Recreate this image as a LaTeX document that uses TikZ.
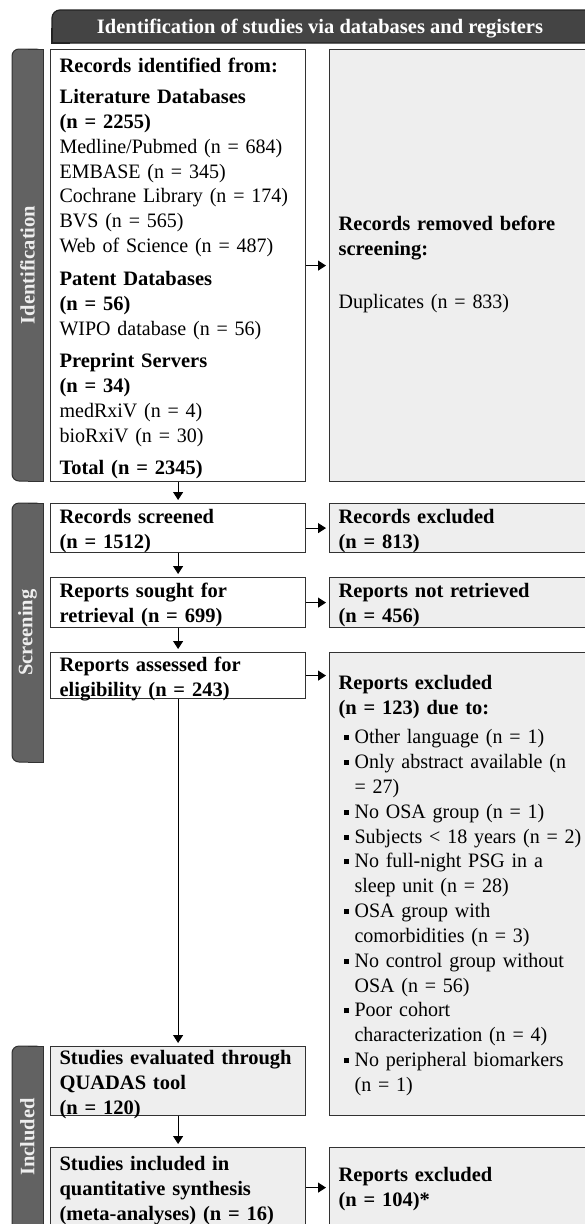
\documentclass[tikz,border=0pt]{standalone}
\usepackage{fontspec}
\setmainfont{Liberation Serif}[UprightFeatures={FakeStretch=0.975}]
\usetikzlibrary{arrows.meta}
\definecolor{boxline}{RGB}{50,50,50}
\definecolor{boxgray}{RGB}{238,238,238}
\definecolor{barfill}{RGB}{98,98,98}
\definecolor{barline}{RGB}{50,50,50}
\definecolor{titlefill}{RGB}{68,68,68}
\definecolor{titleline}{RGB}{35,35,35}
\definecolor{bartext}{RGB}{238,238,238}
\newcommand{\fsz}{\fontsize{20.5}{24.85}\selectfont}
\newcommand{\bitem}[1]{\par\noindent\hangindent=16pt\hangafter=1\makebox[16pt][l]{\hspace{5pt}\rule[3.5pt]{5pt}{5pt}}#1}
\begin{document}
\begin{tikzpicture}[x=1pt,y=-1pt,
  box/.style={draw=boxline, line width=1.2pt, fill=white, anchor=north west,
    inner xsep=9pt, inner ysep=0pt, align=left, font=\fsz, text=black},
  lbox/.style={box, minimum width=255pt, text width=237pt},
  rbox/.style={box, minimum width=275pt, text width=257pt},
  grey/.style={fill=boxgray},
  arr/.style={line width=1pt, -{Triangle[length=8pt,width=10pt]}, shorten >=3pt},
  barlab/.style={rotate=90, font=\fsz\bfseries, text=bartext},
  bar/.style={fill=barfill, draw=barline, line width=1pt}]
\useasboundingbox (0,0) rectangle (585,1224);

% title bar
\path[fill=titlefill, draw=titleline, line width=1.2pt, rounded corners=8pt] (52,10) rectangle (610,43);
\fill[titlefill] (52.6,28) rectangle (70,42.4);
\draw[titleline, line width=1.2pt] (52,28) -- (52,43) -- (70,43);
\node[anchor=base, font=\fsz\bfseries, text=white] (title) at (320,33) {Identification of studies via databases and registers};

% side bars
\path[bar, rounded corners=7pt] (12,49) rectangle (43,481);
\fill[barfill] (28,49.5) rectangle (42.5,480.5);
\draw[barline, line width=1pt] (28,49) -- (43,49) -- (43,481) -- (28,481);
\node[barlab] (idlab) at (27.5,265) {Identification};

\path[bar, rounded corners=7pt] (12,503) rectangle (43,762);
\fill[barfill] (28,503.5) rectangle (42.5,761.5);
\draw[barline, line width=1pt] (28,503) -- (43,503) -- (43,762) -- (28,762);
\node[barlab] (scrlab) at (27.5,632.5) {Screening};

\path[bar, rounded corners=7pt] (12,1046) rectangle (43,1240);
\fill[barfill] (28,1046.5) rectangle (42.5,1239.5);
\draw[barline, line width=1pt] (28,1046) -- (43,1046) -- (43,1240);
\node[barlab] (inclab) at (27.5,1137) {Included};

% boxes
\node[lbox, text height=23pt, text depth=409pt] (ident) at (50,49) {%
\textbf{Records identified from:}\\[6pt]
\textbf{Literature Databases}\\
\textbf{(n = 2255)}\\
Medline/Pubmed (n = 684)\\
EMBASE (n = 345)\\
Cochrane Library (n = 174)\\
BVS (n = 565)\\
Web of Science (n = 487)\\[8pt]
\textbf{Patent Databases}\\
\textbf{(n = 56)}\\
WIPO database (n = 56)\\[8pt]
\textbf{Preprint Servers}\\
\textbf{(n = 34)}\\
medRxiV (n = 4)\\
bioRxiV (n = 30)\\[7.5pt]
\textbf{Total (n = 2345)}};

\node[rbox, grey, text height=181pt, text depth=251pt] (removed) at (329,49) {%
\textbf{Records removed before}\\
\textbf{screening:}\\[28pt]
Duplicates (n = 833)};

\node[lbox, text height=20pt, text depth=29pt] (screened) at (50,503) {\textbf{Records screened}\\\textbf{(n = 1512)}};
\node[rbox, grey, text height=20pt, text depth=29pt] (recexcl) at (329,503) {\textbf{Records excluded}\\\textbf{(n = 813)}};

\node[lbox, text height=20pt, text depth=30pt] (sought) at (50,577) {\textbf{Reports sought for}\\\textbf{retrieval (n = 699)}};
\node[rbox, grey, text height=20pt, text depth=30pt] (notret) at (329,577) {\textbf{Reports not retrieved}\\\textbf{(n = 456)}};

\node[lbox, text height=19pt, text depth=27pt] (assessed) at (50,652) {\textbf{Reports assessed for}\\\textbf{eligibility (n = 243)}};
\node[rbox, grey, text height=37pt, text depth=426pt] (repexcl) at (329,652) {%
\textbf{Reports excluded}\\
\textbf{(n = 123) due to:}\par\vspace{4.3pt}
\bitem{Other language (n = 1)}
\bitem{Only abstract available (n\newline = 27)}
\bitem{No OSA group (n = 1)}
\bitem{Subjects < 18 years (n = 2)}
\bitem{No full-night PSG in a\newline sleep unit (n = 28)}
\bitem{OSA group with\newline comorbidities (n = 3)}
\bitem{No control group without\newline OSA (n = 56)}
\bitem{Poor cohort\newline characterization (n = 4)}
\bitem{No peripheral biomarkers\newline (n = 1)}\par};

\node[lbox, grey, text height=18pt, text depth=51pt] (evaluated) at (50,1046) {\textbf{Studies evaluated through}\\\textbf{QUADAS tool}\\\textbf{(n = 120)}};

\node[lbox, grey, text height=23pt, text depth=57pt] (included) at (50,1147) {\textbf{Studies included in}\\\textbf{quantitative synthesis}\\\textbf{(meta-analyses) (n = 16)}};
\node[rbox, grey, text height=34pt, text depth=46pt] (repexcl2) at (329,1147) {\textbf{Reports excluded}\\\textbf{(n = 104)*}};

% connectors
\draw[arr] (ident.south) -- (screened.north);
\draw[arr] (screened.south) -- (sought.north);
\draw[arr] (sought.south) -- (assessed.north);
\draw[arr] (assessed.south) -- (evaluated.north);
\draw[arr] (evaluated.south) -- (included.north);
\draw[arr] (ident.east) -- (ident.east -| removed.west);
\draw[arr] (screened.east) -- (screened.east -| recexcl.west);
\draw[arr] (sought.east) -- (sought.east -| notret.west);
\draw[arr] (assessed.east) -- (assessed.east -| repexcl.west);
\draw[arr] (included.east) -- (included.east -| repexcl2.west);
\end{tikzpicture}
\end{document}
